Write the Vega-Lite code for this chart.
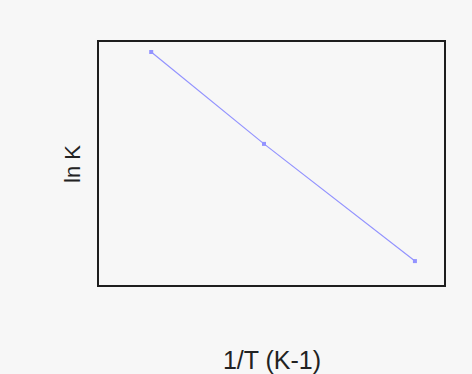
{
  "$schema": "https://vega.github.io/schema/vega-lite/v6.json",
  "autosize": {"type": "none"},
  "width": 347,
  "height": 245,
  "padding": {"left": 98, "top": 41, "right": 27, "bottom": 88},
  "background": "#f7f7f7",
  "config": {
    "view": {"stroke": "#1e1e1e", "strokeWidth": 2, "fill": "#f7f7f7"},
    "axis": {"grid": false, "ticks": false, "labels": false, "domain": false,
             "titleFont": "Liberation Sans", "titleFontWeight": "normal", "titleColor": "#222222"}
  },
  "data": {"values": [
    {"invT": 0.003092, "lnK": 3.73},
    {"invT": 0.003287, "lnK": 1.48},
    {"invT": 0.003548, "lnK": -1.39}
  ]},
  "mark": {"type": "line", "color": "#9393ff", "strokeWidth": 1.2, "point": {"shape": "square", "size": 16, "filled": true, "color": "#9393ff"}},
  "encoding": {
    "x": {"field": "invT", "type": "quantitative", "scale": {"domain": [0.0030, 0.0036], "zero": false, "nice": false},
          "axis": {"title": "1/T (K-1)", "titleFontSize": 25, "titlePadding": 62}},
    "y": {"field": "lnK", "type": "quantitative", "scale": {"domain": [-2, 4], "zero": false, "nice": false},
          "axis": {"title": "ln K", "titleFontSize": 22, "titlePadding": 14}}
  }
}
